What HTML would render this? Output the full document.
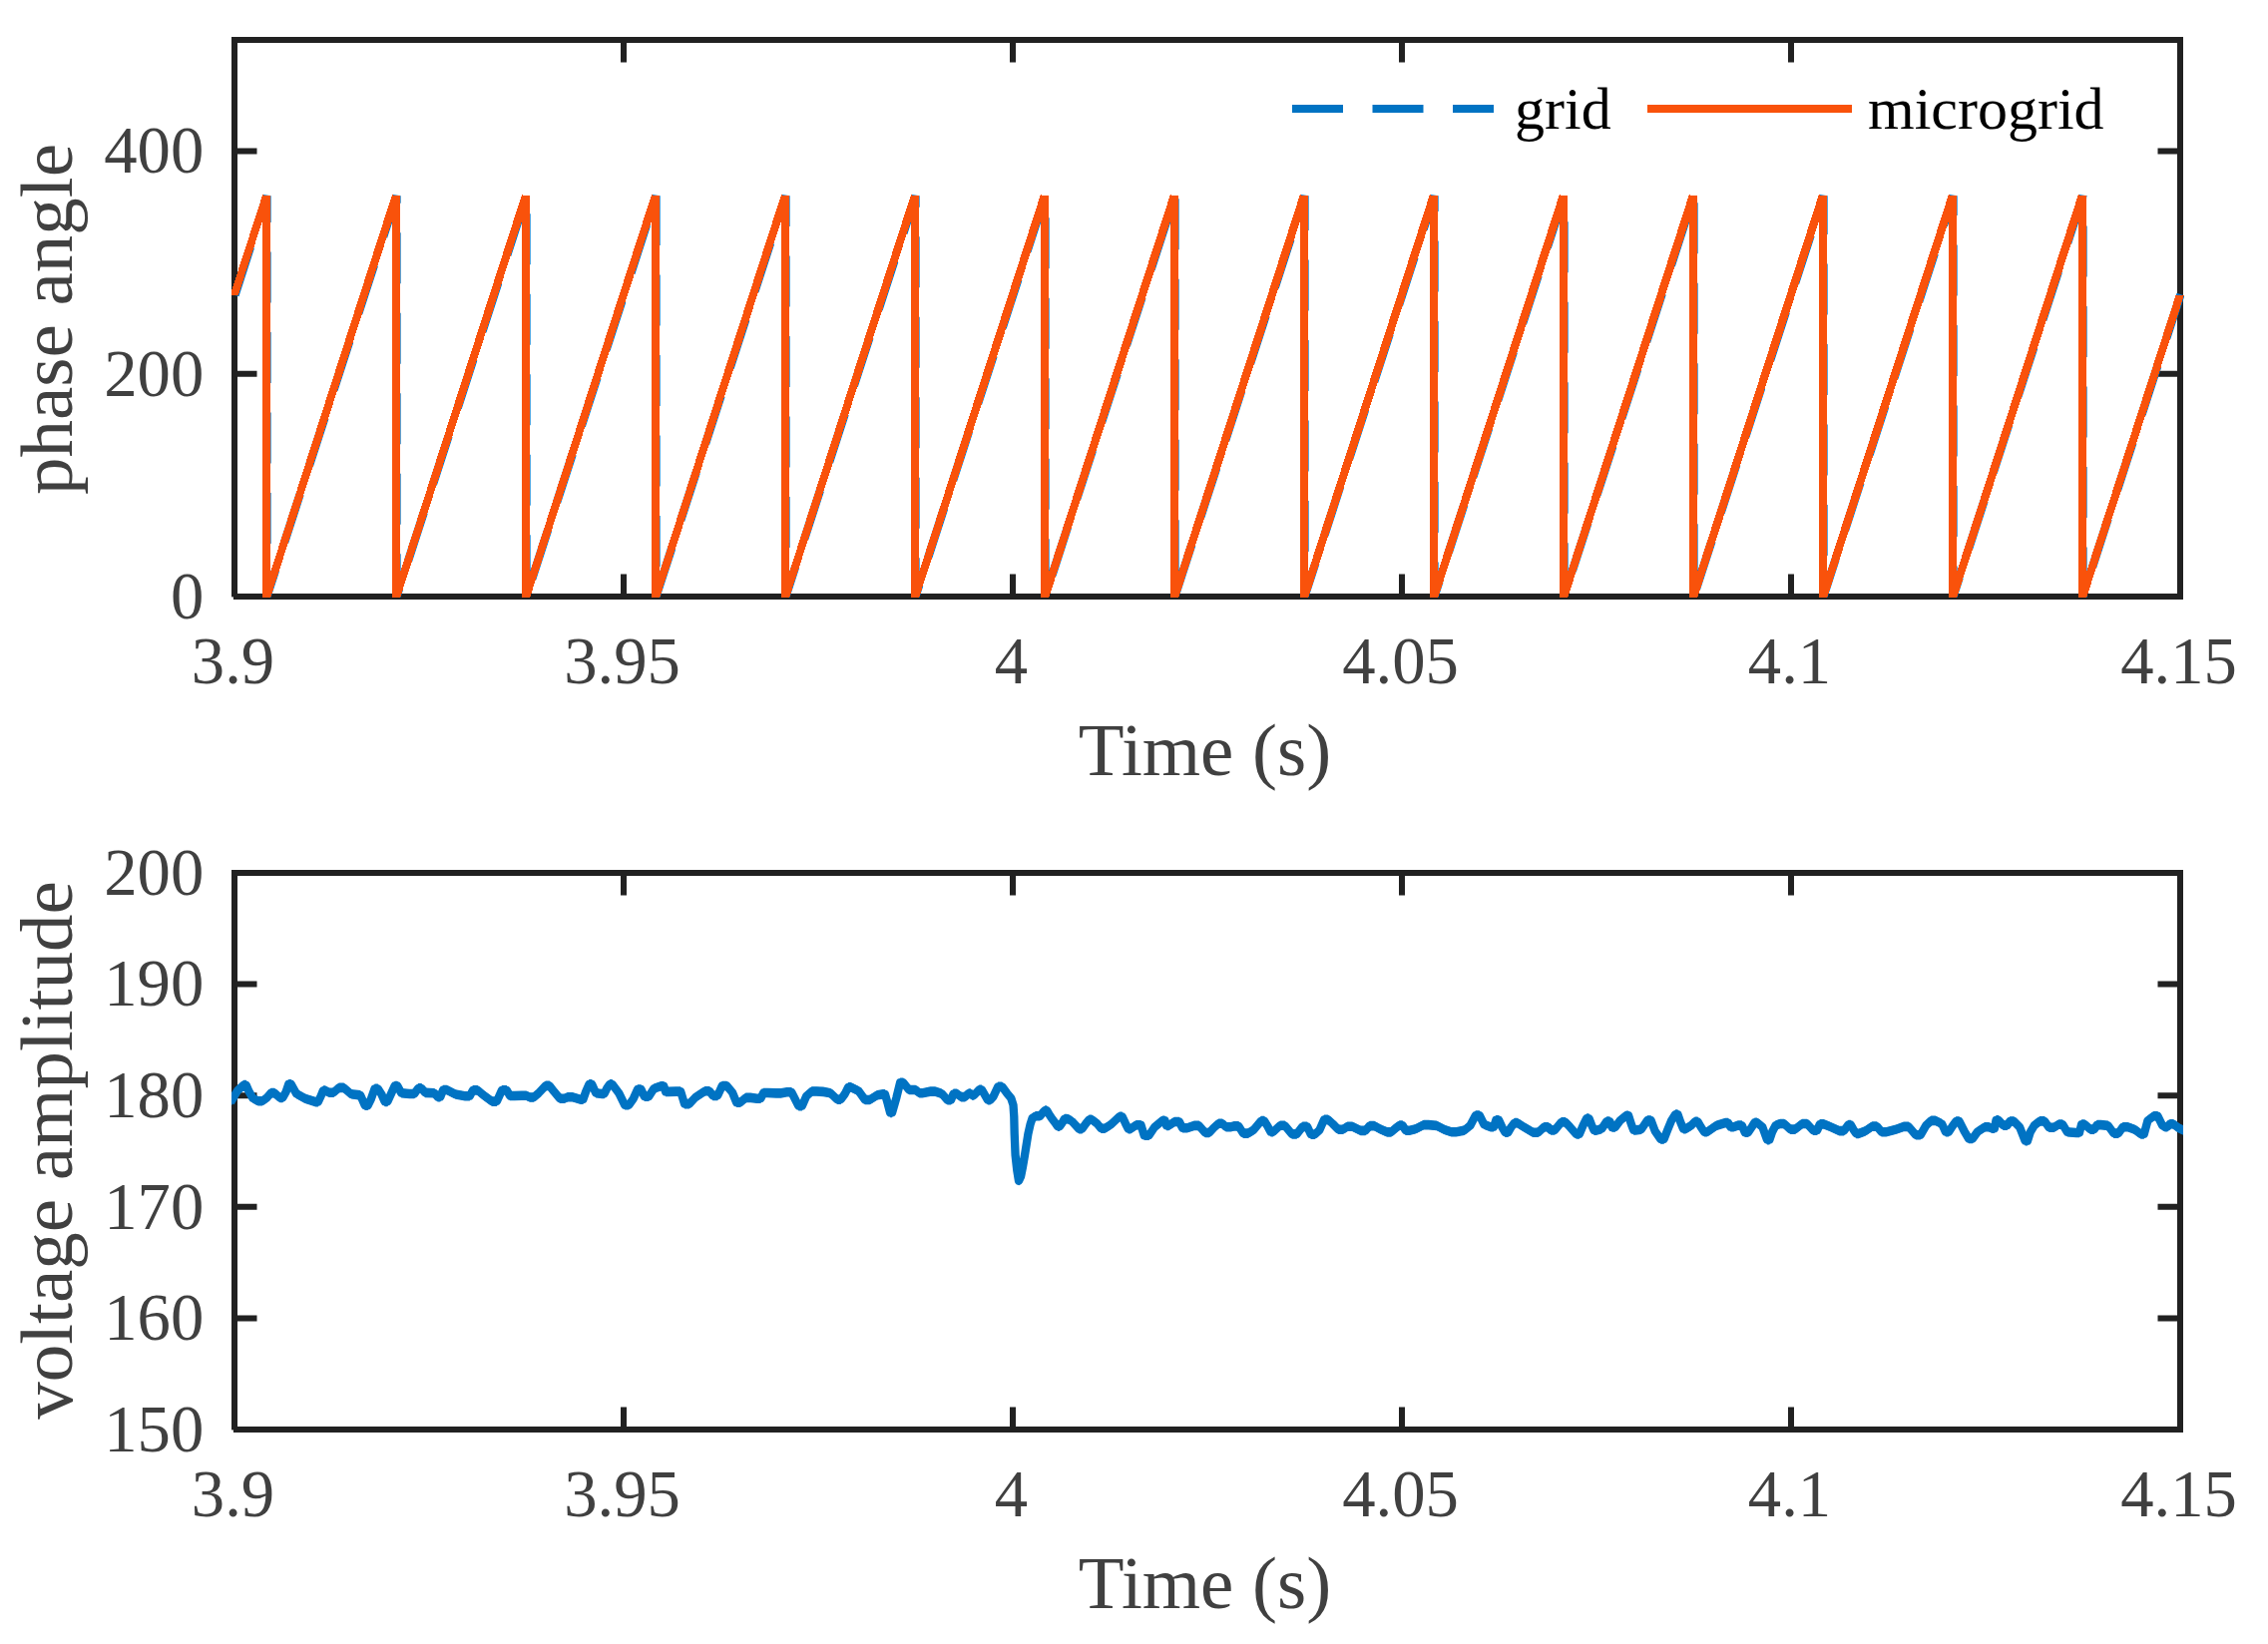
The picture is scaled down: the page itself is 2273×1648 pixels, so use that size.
<!DOCTYPE html>
<html lang="en">
<head>
<meta charset="utf-8">
<title>Phase angle and voltage amplitude</title>
<style>html,body{margin:0;padding:0;background:#fff}svg{display:block}</style>
</head>
<body>
<svg width="2273" height="1648" viewBox="0 0 2273 1648" font-family='"Liberation Serif", "Times New Roman", serif' fill="#404040">
<rect width="2273" height="1648" fill="#fff"/>
<defs><clipPath id="c1"><rect x="232" y="40" width="1957" height="559.2"/></clipPath><clipPath id="c2"><rect x="232" y="875" width="1956" height="558"/></clipPath></defs>
<rect x="235" y="40" width="1950" height="558" fill="none" stroke="#212121" stroke-width="6"/>
<rect x="231.9" y="598.4" width="2" height="3.2" fill="#fff"/>
<path d="M625 40v22.5M625 598v-22.5M1015 40v22.5M1015 598v-22.5M1405 40v22.5M1405 598v-22.5M1795 40v22.5M1795 598v-22.5M235 374.8h22.5M2185 374.8h-22.5M235 151.6h22.5M2185 151.6h-22.5" fill="none" stroke="#212121" stroke-width="6"/>
<g font-size="66.7">
<text x="233.5" y="685" text-anchor="middle">3.9</text>
<text x="623.5" y="685" text-anchor="middle">3.95</text>
<text x="1013.5" y="685" text-anchor="middle">4</text>
<text x="1403.5" y="685" text-anchor="middle">4.05</text>
<text x="1793.5" y="685" text-anchor="middle">4.1</text>
<text x="2183.5" y="685" text-anchor="middle">4.15</text>
<text x="204.3" y="619.8" text-anchor="end">0</text>
<text x="204.3" y="396.6" text-anchor="end">200</text>
<text x="204.3" y="173.4" text-anchor="end">400</text>
</g>
<g clip-path="url(#c1)">
<polyline points="235,296 267,196.2 267,598 397,196.2 397,598 527,196.2 527,598 657,196.2 657,598 787,196.2 787,598 917,196.2 917,598 1047,196.2 1047,598 1177,196.2 1177,598 1307,196.2 1307,598 1437,196.2 1437,598 1567,196.2 1567,598 1697,196.2 1697,598 1827,196.2 1827,598 1957,196.2 1957,598 2087,196.2 2087,598 2185,295.1" fill="none" stroke="#0073C3" stroke-width="8.3" stroke-dasharray="51 29.5" transform="translate(0.5 0)"/>
<path d="M262.9 196.2L271.1 196.2L238.9 296L230.6 296ZM262.9 195.4L271.1 196.2L271.1 599L262.9 599ZM392.9 195.4L401.1 196.2L271.1 599L262.9 599ZM392.9 195.4L401.1 196.2L401.1 599L392.9 599ZM522.9 195.4L531.1 196.2L401.1 599L392.9 599ZM522.9 195.4L531.1 196.2L531.1 599L522.9 599ZM652.9 195.4L661.1 196.2L531.1 599L522.9 599ZM652.9 195.4L661.1 196.2L661.1 599L652.9 599ZM782.9 195.4L791.1 196.2L661.1 599L652.9 599ZM782.9 195.4L791.1 196.2L791.1 599L782.9 599ZM912.9 195.4L921.1 196.2L791.1 599L782.9 599ZM912.9 195.4L921.1 196.2L921.1 599L912.9 599ZM1042.8 195.4L1051.2 196.2L921.1 599L912.9 599ZM1042.8 195.4L1051.2 196.2L1051.2 599L1042.8 599ZM1172.8 195.4L1181.2 196.2L1051.2 599L1042.8 599ZM1172.8 195.4L1181.2 196.2L1181.2 599L1172.8 599ZM1302.8 195.4L1311.2 196.2L1181.2 599L1172.8 599ZM1302.8 195.4L1311.2 196.2L1311.2 599L1302.8 599ZM1432.8 195.4L1441.2 196.2L1311.2 599L1302.8 599ZM1432.8 195.4L1441.2 196.2L1441.2 599L1432.8 599ZM1562.8 195.4L1571.2 196.2L1441.2 599L1432.8 599ZM1562.8 195.4L1571.2 196.2L1571.2 599L1562.8 599ZM1692.8 195.4L1701.2 196.2L1571.2 599L1562.8 599ZM1692.8 195.4L1701.2 196.2L1701.2 599L1692.8 599ZM1822.8 195.4L1831.2 196.2L1701.2 599L1692.8 599ZM1822.8 195.4L1831.2 196.2L1831.2 599L1822.8 599ZM1952.8 195.4L1961.2 196.2L1831.2 599L1822.8 599ZM1952.8 195.4L1961.2 196.2L1961.2 599L1952.8 599ZM2082.8 195.4L2091.2 196.2L1961.2 599L1952.8 599ZM2082.8 195.4L2091.2 196.2L2091.2 599L2082.8 599ZM2180.5 296.3L2188.8 296.3L2091.2 599L2082.8 599Z" fill="#F9520B" shape-rendering="crispEdges"/>
</g>
<text x="1207.5" y="776.5" font-size="75" text-anchor="middle">Time (s)</text>
<text transform="translate(72 320) rotate(-90)" font-size="75" text-anchor="middle">phase angle</text>
<path d="M1295 109H1497" stroke="#0073C3" stroke-width="8" stroke-dasharray="51 29.5" fill="none"/>
<path d="M1651 109H1856" stroke="#F9520B" stroke-width="8" fill="none"/>
<g font-size="60" fill="#000">
<text x="1518" y="129">grid</text>
<text x="1872" y="129">microgrid</text>
</g>
<rect x="235" y="875" width="1950" height="558" fill="none" stroke="#212121" stroke-width="6"/>
<rect x="231.9" y="1433.4" width="2" height="3.2" fill="#fff"/>
<path d="M625 875v22.5M625 1433v-22.5M1015 875v22.5M1015 1433v-22.5M1405 875v22.5M1405 1433v-22.5M1795 875v22.5M1795 1433v-22.5M235 1321.4h22.5M2185 1321.4h-22.5M235 1209.8h22.5M2185 1209.8h-22.5M235 1098.2h22.5M2185 1098.2h-22.5M235 986.6h22.5M2185 986.6h-22.5" fill="none" stroke="#212121" stroke-width="6"/>
<g font-size="66.7">
<text x="233.5" y="1519.5" text-anchor="middle">3.9</text>
<text x="623.5" y="1519.5" text-anchor="middle">3.95</text>
<text x="1013.5" y="1519.5" text-anchor="middle">4</text>
<text x="1403.5" y="1519.5" text-anchor="middle">4.05</text>
<text x="1793.5" y="1519.5" text-anchor="middle">4.1</text>
<text x="2183.5" y="1519.5" text-anchor="middle">4.15</text>
<text x="204.3" y="1454.8" text-anchor="end">150</text>
<text x="204.3" y="1343.2" text-anchor="end">160</text>
<text x="204.3" y="1231.6" text-anchor="end">170</text>
<text x="204.3" y="1120" text-anchor="end">180</text>
<text x="204.3" y="1008.4" text-anchor="end">190</text>
<text x="204.3" y="896.8" text-anchor="end">200</text>
</g>
<g clip-path="url(#c2)">
<polyline points="231,1105.2 234.9,1098.6 238.2,1093.1 244.3,1087.6 246.7,1087.6 249.5,1094.1 253.4,1100.9 258.7,1103.8 262.7,1103.8 267.3,1100.6 271.5,1095.6 275.1,1095.6 280.5,1100.5 283.3,1100.5 286.5,1094.8 289.3,1086.7 291.7,1086.7 297.1,1096.4 305.7,1101.2 316.4,1104.6 318.8,1104.6 321.6,1098.8 323.9,1093.1 325.9,1093.1 330,1095.3 334.3,1095.3 339.7,1090.4 344.5,1090.4 352,1096.8 361.2,1097.9 365.8,1108.3 368.6,1108.3 371.8,1101.9 375.5,1091.4 378.7,1091.4 382.4,1097 385.6,1104.4 388.4,1104.4 392.3,1095.7 395.6,1088.5 398.3,1088.5 402.2,1095.7 410.4,1096.5 415.2,1096.5 419.2,1090.9 422.4,1090.9 426.1,1095.4 435.3,1095.7 438.6,1099.7 441.3,1099.7 444.1,1092.5 447.7,1092.5 456.5,1097 466,1098.7 470.8,1098.7 473.9,1092.9 478.7,1092.9 484.3,1097.7 493.1,1104.1 497.9,1104.1 503,1092.8 507.8,1092.8 511,1098.5 515.7,1098.5 522.6,1098.2 527.4,1098.2 531,1100 534.9,1100 539.6,1096 546.8,1088.4 550.8,1088.4 555.4,1094.4 561,1101.2 565.7,1101.2 568.9,1099.7 573.7,1099.7 582,1102.2 584.4,1102.2 587.2,1094.1 590.4,1086.8 593.2,1086.8 597.1,1095.7 603.2,1096.5 605.6,1096.5 608.3,1090.9 611.1,1086.8 613.5,1086.8 620.2,1095.7 626.2,1107.8 630.2,1107.8 634.8,1101.3 639,1092 642.5,1092 645.8,1099.2 650.2,1099.2 655.3,1091.2 662.5,1088.7 665.3,1088.7 667.1,1094.4 669.9,1094.4 677.4,1094.1 682.2,1094.1 686,1106.6 690.8,1106.6 697,1100 706.5,1093.8 711.2,1093.8 714.4,1098.4 719.2,1098.4 723.7,1088.5 728.4,1088.5 734,1095.1 738.2,1105.3 741.7,1105.3 747.5,1100.4 752.3,1100.4 758.5,1101.2 762.4,1101.2 765.1,1095.5 769,1095.5 777.9,1095.9 782.7,1095.9 788.5,1094.8 793.3,1094.8 800.3,1108.6 803.9,1108.6 808.1,1098.9 813.6,1094 818.4,1094 825,1094.4 832.3,1095.7 839.1,1102.2 842.7,1102.2 846.8,1096.5 850.1,1089.9 852.8,1089.9 860.7,1093.8 866.9,1102.5 871.7,1102.5 879.2,1097.7 884.7,1096.9 887,1096.9 889.8,1106.6 892.1,1115.4 894.1,1115.4 898.4,1100.3 902.1,1085.2 905.3,1085.2 911,1092.5 917.6,1092.5 921.3,1095.7 924.5,1095.7 932.4,1094.1 937.2,1094.1 944,1096.4 949.5,1102.8 953.1,1102.8 955.5,1096.4 959.1,1096.4 963.2,1099.6 967.2,1099.6 970.8,1096.1 972.8,1096.1 974.1,1098 976.1,1098 981.4,1092.3 983.9,1092.3 986.9,1097.5 989.9,1102.7 992.5,1102.7 995.4,1099.5 1000.2,1089.3 1004.3,1089.3 1009.1,1095.8 1013.3,1100.9 1015.5,1107.7 1016.3,1119.6 1016.7,1136.7 1017.6,1158 1019.3,1173.3 1021,1183.9 1023.1,1179.3 1024.8,1170.7 1027,1158 1030.4,1136.7 1032.5,1127.3 1034.6,1120.9 1038,1118.8 1042.3,1118.8 1045.3,1115.1 1047.4,1113.1 1049.1,1113.1 1051.2,1116.7 1054.2,1121.3 1058,1126.3 1060.1,1129.2 1061.9,1129.2 1064.4,1125.8 1066.8,1121.6 1068.9,1121.6 1071.3,1122 1074.7,1124.5 1075,1124.7 1081.3,1131.6 1084.5,1131.6 1088.2,1126.4 1091.5,1122.3 1094.2,1122.3 1099.5,1126.4 1103.6,1131.2 1107.2,1131.2 1113.4,1127.2 1121.9,1119.3 1124.7,1119.3 1127.9,1126.1 1130.7,1131.7 1133.1,1131.7 1138.8,1127.7 1143.5,1127.7 1146.7,1138.2 1151.5,1138.2 1157,1130 1165.1,1123.2 1167.5,1123.2 1169,1128.4 1171.4,1128.4 1177.1,1124.5 1181.9,1124.5 1185.1,1130.8 1189.8,1130.8 1196.9,1128.4 1201.7,1128.4 1207.9,1135.5 1211.9,1135.5 1216.5,1130.5 1221.2,1126.3 1225.1,1126.3 1228.7,1129.7 1233.5,1129.7 1236.6,1128.9 1241.4,1128.9 1245.9,1136.1 1250.7,1136.1 1256.2,1132.9 1263.9,1123.6 1267.1,1123.6 1270.8,1129.7 1273.5,1134.7 1275.9,1134.7 1282.9,1128.3 1287.7,1128.3 1294.8,1136.9 1299.6,1136.9 1305.4,1129.4 1310.2,1129.4 1313.8,1137.2 1317.7,1137.2 1322.4,1132.9 1327,1122.4 1331,1122.4 1335.6,1126.5 1341.1,1132.2 1345.9,1132.2 1350.4,1129.2 1355.2,1129.2 1363.6,1133.4 1368.4,1133.4 1372.6,1128.6 1377.4,1128.6 1382.9,1131.7 1390.2,1134.9 1394.2,1134.9 1398.8,1130.9 1402.5,1128.1 1405.7,1128.1 1408.7,1133.3 1412.7,1133.3 1418.7,1131.7 1426.8,1127.6 1431.6,1127.6 1439.8,1128.4 1447.8,1132.5 1454.6,1134.7 1459.4,1134.7 1467.6,1133.1 1473.5,1128.2 1478.8,1118.1 1482.8,1118.1 1487.4,1127.3 1493.8,1129.7 1497,1129.7 1499.3,1122.7 1502.1,1122.7 1505.3,1129.7 1508.5,1135.3 1511.3,1135.3 1514.6,1129.7 1517.8,1125.6 1520.6,1125.6 1527.1,1129.7 1536.6,1135.3 1541.4,1135.3 1547.6,1129.7 1551.6,1129.7 1554.2,1132.9 1558.2,1132.9 1564.8,1124.8 1568.8,1124.8 1573.4,1129.7 1579.8,1136.9 1582.9,1136.9 1586.6,1128.1 1590.1,1121.1 1592.5,1121.1 1595.2,1128.1 1597.6,1133.2 1599.5,1133.2 1605.2,1131.6 1610.2,1124.1 1613.4,1124.1 1615.5,1130 1618.7,1130 1623.7,1123.2 1629.8,1118.2 1632.1,1118.2 1634.9,1127 1637.2,1132.9 1639.2,1132.9 1644.8,1132.3 1651,1123 1654.6,1123 1658.7,1133.9 1664.4,1142 1667.6,1142 1671.3,1132.6 1675,1123.5 1679.1,1117.1 1681.5,1117.1 1684.3,1125.1 1687,1131.6 1689.4,1131.6 1694.8,1128.4 1698.7,1124.3 1701.5,1124.3 1704.8,1130 1708,1134.8 1710.8,1134.8 1720,1128.4 1729,1125.6 1732.1,1125.6 1734.3,1129.7 1737.4,1129.7 1741.8,1128.1 1745.8,1128.1 1748.8,1135.3 1752,1135.3 1755.7,1129.7 1758.5,1125.2 1760.8,1125.2 1766.3,1129.7 1771,1142.6 1773.4,1142.6 1776.2,1134.5 1779.5,1128.1 1784.1,1126.5 1788.1,1126.5 1794.3,1132.1 1799.1,1132.1 1806.2,1126.5 1811,1126.5 1817.2,1133.2 1821.2,1133.2 1823.8,1126.9 1827.8,1126.9 1833.7,1129.2 1843.3,1133.6 1848,1133.6 1852.4,1127.5 1854.8,1127.5 1857.5,1132.3 1860.3,1136.4 1862.7,1136.4 1869.4,1133.9 1876.3,1129.1 1881.1,1129.1 1885.6,1134.7 1890.4,1134.7 1899.9,1132.3 1908,1129.4 1912.8,1129.4 1920,1137.8 1924.7,1137.8 1930.3,1128.1 1935.4,1123.4 1939.7,1123.4 1946.2,1126.6 1949.9,1134.7 1953,1134.7 1956.7,1129 1960.4,1124 1963.6,1124 1968.7,1134.2 1973.1,1141.5 1976.9,1141.5 1981.9,1134.5 1989.2,1129.7 1993.1,1129.7 1996.6,1131.3 1998.9,1131.3 2000.5,1122.9 2002.9,1122.9 2007.7,1128.1 2011.6,1128.1 2014.3,1124 2018.3,1124 2024.2,1130 2029.6,1143.7 2032,1143.7 2034.8,1134.8 2038.8,1128.1 2044.3,1123.9 2049.1,1123.9 2053.6,1130.3 2058.4,1130.3 2063.2,1127.1 2067.2,1127.1 2071.8,1134.8 2080.8,1135.5 2084,1135.5 2086.1,1127.1 2089.3,1127.1 2095,1132.1 2098.9,1132.1 2101.6,1127.6 2105.6,1127.6 2112.8,1128.4 2118.4,1136.1 2123.1,1136.1 2127.6,1129.7 2132.4,1129.7 2139.3,1132.2 2145.6,1136.9 2148.8,1136.9 2152.5,1123.2 2158.5,1118.7 2162.4,1118.7 2167.1,1128.1 2169.8,1129.7 2172.2,1129.7 2174.7,1126.7 2177.9,1126.7 2184.3,1131.3 2188.9,1133.2" fill="none" stroke="#0073C3" stroke-width="8.3" stroke-linejoin="round"/>
<path d="M231 1100.4 L234.9 1093.8 L238.2 1088.3 L244.3 1082.8 L246.7 1082.8 L249.5 1089.3 L253.4 1096.1 L258.7 1099 L262.7 1099 L267.3 1095.8 L271.5 1090.8 L275.1 1090.8 L280.5 1095.7 L283.3 1095.7 L286.5 1090 L289.3 1081.9 L291.7 1081.9 L297.1 1091.6 L305.7 1096.4 L316.4 1099.8 L318.8 1099.8 L321.6 1094 L323.9 1088.3 L325.9 1088.3 L330 1090.5 L334.3 1090.5 L339.7 1085.6 L344.5 1085.6 L352 1092 L361.2 1093.1 L365.8 1103.5 L368.6 1103.5 L371.8 1097.1 L375.5 1086.6 L378.7 1086.6 L382.4 1092.2 L385.6 1099.6 L388.4 1099.6 L392.3 1090.9 L395.6 1083.7 L398.3 1083.7 L402.2 1090.9 L410.4 1091.7 L415.2 1091.7 L419.2 1086.1 L422.4 1086.1 L426.1 1090.6 L435.3 1090.9 L438.6 1094.9 L441.3 1094.9 L444.1 1087.7 L447.7 1087.7 L456.5 1092.2 L466 1093.9 L470.8 1093.9 L473.9 1088.1 L478.7 1088.1 L484.3 1092.9 L493.1 1099.3 L497.9 1099.3 L503 1088 L507.8 1088 L511 1093.7 L515.7 1093.7 L522.6 1093.4 L527.4 1093.4 L531 1095.2 L534.9 1095.2 L539.6 1091.2 L546.8 1083.6 L550.8 1083.6 L555.4 1089.6 L561 1096.4 L565.7 1096.4 L568.9 1094.9 L573.7 1094.9 L582 1097.4 L584.4 1097.4 L587.2 1089.3 L590.4 1082 L593.2 1082 L597.1 1090.9 L603.2 1091.7 L605.6 1091.7 L608.3 1086.1 L611.1 1082 L613.5 1082 L620.2 1090.9 L626.2 1103 L630.2 1103 L634.8 1096.5 L639 1087.2 L642.5 1087.2 L645.8 1094.4 L650.2 1094.4 L655.3 1086.4 L662.5 1083.9 L665.3 1083.9 L667.1 1089.6 L669.9 1089.6 L677.4 1089.3 L682.2 1089.3 L686 1101.8 L690.8 1101.8 L697 1095.2 L706.5 1089 L711.2 1089 L714.4 1093.6 L719.2 1093.6 L723.7 1083.7 L728.4 1083.7 L734 1090.3 L738.2 1100.5 L741.7 1100.5 L747.5 1095.6 L752.3 1095.6 L758.5 1096.4 L762.4 1096.4 L765.1 1090.7 L769 1090.7 L777.9 1091.1 L782.7 1091.1 L788.5 1090 L793.3 1090 L800.3 1103.8 L803.9 1103.8 L808.1 1094.1 L813.6 1089.2 L818.4 1089.2 L825 1089.6 L832.3 1090.9 L839.1 1097.4 L842.7 1097.4 L846.8 1091.7 L850.1 1085.1 L852.8 1085.1 L860.7 1089 L866.9 1097.7 L871.7 1097.7 L879.2 1092.9 L884.7 1092.1 L887 1092.1 L889.8 1101.8 L892.1 1110.6 L894.1 1110.6 L898.4 1095.5 L902.1 1080.4 L905.3 1080.4 L911 1087.7 L917.6 1087.7 L921.3 1090.9 L924.5 1090.9 L932.4 1089.3 L937.2 1089.3 L944 1091.6 L949.5 1098 L953.1 1098 L955.5 1091.6 L959.1 1091.6 L963.2 1094.8 L967.2 1094.8 L970.8 1091.3 L972.8 1091.3 L974.1 1093.2 L976.1 1093.2 L981.4 1087.5 L983.9 1087.5 L986.9 1092.7 L989.9 1097.9 L992.5 1097.9 L995.4 1094.7 L1000.2 1084.5 L1004.3 1084.5 L1009.1 1091 L1013.3 1096.1 L1015.5 1102.9 L1016.3 1114.8 L1016.7 1131.9 L1017.6 1153.2 L1019.3 1168.5 L1021 1179.1 L1023.1 1174.5 L1024.8 1165.9 L1027 1153.2 L1030.4 1131.9 L1032.5 1122.5 L1034.6 1116.1 L1038 1114 L1042.3 1114 L1045.3 1110.3 L1047.4 1108.3 L1049.1 1108.3 L1051.2 1111.9 L1054.2 1116.5 L1058 1121.5 L1060.1 1124.4 L1061.9 1124.4 L1064.4 1121 L1066.8 1116.8 L1068.9 1116.8 L1071.3 1117.2 L1074.7 1119.7 L1075 1119.9 L1081.3 1126.8 L1084.5 1126.8 L1088.2 1121.6 L1091.5 1117.5 L1094.2 1117.5 L1099.5 1121.6 L1103.6 1126.4 L1107.2 1126.4 L1113.4 1122.4 L1121.9 1114.5 L1124.7 1114.5 L1127.9 1121.3 L1130.7 1126.9 L1133.1 1126.9 L1138.8 1122.9 L1143.5 1122.9 L1146.7 1133.4 L1151.5 1133.4 L1157 1125.2 L1165.1 1118.4 L1167.5 1118.4 L1169 1123.6 L1171.4 1123.6 L1177.1 1119.7 L1181.9 1119.7 L1185.1 1126 L1189.8 1126 L1196.9 1123.6 L1201.7 1123.6 L1207.9 1130.7 L1211.9 1130.7 L1216.5 1125.7 L1221.2 1121.5 L1225.1 1121.5 L1228.7 1124.9 L1233.5 1124.9 L1236.6 1124.1 L1241.4 1124.1 L1245.9 1131.3 L1250.7 1131.3 L1256.2 1128.1 L1263.9 1118.8 L1267.1 1118.8 L1270.8 1124.9 L1273.5 1129.9 L1275.9 1129.9 L1282.9 1123.5 L1287.7 1123.5 L1294.8 1132.1 L1299.6 1132.1 L1305.4 1124.6 L1310.2 1124.6 L1313.8 1132.4 L1317.7 1132.4 L1322.4 1128.1 L1327 1117.6 L1331 1117.6 L1335.6 1121.7 L1341.1 1127.4 L1345.9 1127.4 L1350.4 1124.4 L1355.2 1124.4 L1363.6 1128.6 L1368.4 1128.6 L1372.6 1123.8 L1377.4 1123.8 L1382.9 1126.9 L1390.2 1130.1 L1394.2 1130.1 L1398.8 1126.1 L1402.5 1123.3 L1405.7 1123.3 L1408.7 1128.5 L1412.7 1128.5 L1418.7 1126.9 L1426.8 1122.8 L1431.6 1122.8 L1439.8 1123.6 L1447.8 1127.7 L1454.6 1129.9 L1459.4 1129.9 L1467.6 1128.3 L1473.5 1123.4 L1478.8 1113.3 L1482.8 1113.3 L1487.4 1122.5 L1493.8 1124.9 L1497 1124.9 L1499.3 1117.9 L1502.1 1117.9 L1505.3 1124.9 L1508.5 1130.5 L1511.3 1130.5 L1514.6 1124.9 L1517.8 1120.8 L1520.6 1120.8 L1527.1 1124.9 L1536.6 1130.5 L1541.4 1130.5 L1547.6 1124.9 L1551.6 1124.9 L1554.2 1128.1 L1558.2 1128.1 L1564.8 1120 L1568.8 1120 L1573.4 1124.9 L1579.8 1132.1 L1582.9 1132.1 L1586.6 1123.3 L1590.1 1116.3 L1592.5 1116.3 L1595.2 1123.3 L1597.6 1128.4 L1599.5 1128.4 L1605.2 1126.8 L1610.2 1119.3 L1613.4 1119.3 L1615.5 1125.2 L1618.7 1125.2 L1623.7 1118.4 L1629.8 1113.4 L1632.1 1113.4 L1634.9 1122.2 L1637.2 1128.1 L1639.2 1128.1 L1644.8 1127.5 L1651 1118.2 L1654.6 1118.2 L1658.7 1129.1 L1664.4 1137.2 L1667.6 1137.2 L1671.3 1127.8 L1675 1118.7 L1679.1 1112.3 L1681.5 1112.3 L1684.3 1120.3 L1687 1126.8 L1689.4 1126.8 L1694.8 1123.6 L1698.7 1119.5 L1701.5 1119.5 L1704.8 1125.2 L1708 1130 L1710.8 1130 L1720 1123.6 L1729 1120.8 L1732.1 1120.8 L1734.3 1124.9 L1737.4 1124.9 L1741.8 1123.3 L1745.8 1123.3 L1748.8 1130.5 L1752 1130.5 L1755.7 1124.9 L1758.5 1120.4 L1760.8 1120.4 L1766.3 1124.9 L1771 1137.8 L1773.4 1137.8 L1776.2 1129.7 L1779.5 1123.3 L1784.1 1121.7 L1788.1 1121.7 L1794.3 1127.3 L1799.1 1127.3 L1806.2 1121.7 L1811 1121.7 L1817.2 1128.4 L1821.2 1128.4 L1823.8 1122.1 L1827.8 1122.1 L1833.7 1124.4 L1843.3 1128.8 L1848 1128.8 L1852.4 1122.7 L1854.8 1122.7 L1857.5 1127.5 L1860.3 1131.6 L1862.7 1131.6 L1869.4 1129.1 L1876.3 1124.3 L1881.1 1124.3 L1885.6 1129.9 L1890.4 1129.9 L1899.9 1127.5 L1908 1124.6 L1912.8 1124.6 L1920 1133 L1924.7 1133 L1930.3 1123.3 L1935.4 1118.6 L1939.7 1118.6 L1946.2 1121.8 L1949.9 1129.9 L1953 1129.9 L1956.7 1124.2 L1960.4 1119.2 L1963.6 1119.2 L1968.7 1129.4 L1973.1 1136.7 L1976.9 1136.7 L1981.9 1129.7 L1989.2 1124.9 L1993.1 1124.9 L1996.6 1126.5 L1998.9 1126.5 L2000.5 1118.1 L2002.9 1118.1 L2007.7 1123.3 L2011.6 1123.3 L2014.3 1119.2 L2018.3 1119.2 L2024.2 1125.2 L2029.6 1138.9 L2032 1138.9 L2034.8 1130 L2038.8 1123.3 L2044.3 1119.1 L2049.1 1119.1 L2053.6 1125.5 L2058.4 1125.5 L2063.2 1122.3 L2067.2 1122.3 L2071.8 1130 L2080.8 1130.7 L2084 1130.7 L2086.1 1122.3 L2089.3 1122.3 L2095 1127.3 L2098.9 1127.3 L2101.6 1122.8 L2105.6 1122.8 L2112.8 1123.6 L2118.4 1131.3 L2123.1 1131.3 L2127.6 1124.9 L2132.4 1124.9 L2139.3 1127.4 L2145.6 1132.1 L2148.8 1132.1 L2152.5 1118.4 L2158.5 1113.9 L2162.4 1113.9 L2167.1 1123.3 L2169.8 1124.9 L2172.2 1124.9 L2174.7 1121.9 L2177.9 1121.9 L2184.3 1126.5 L2188.9 1128.4 L2188.9 1138 L2184.3 1136.1 L2177.9 1131.5 L2174.7 1131.5 L2172.2 1134.5 L2169.8 1134.5 L2167.1 1132.9 L2162.4 1123.5 L2158.5 1123.5 L2152.5 1128 L2148.8 1141.7 L2145.6 1141.7 L2139.3 1137 L2132.4 1134.5 L2127.6 1134.5 L2123.1 1140.9 L2118.4 1140.9 L2112.8 1133.2 L2105.6 1132.4 L2101.6 1132.4 L2098.9 1136.9 L2095 1136.9 L2089.3 1131.9 L2086.1 1131.9 L2084 1140.3 L2080.8 1140.3 L2071.8 1139.6 L2067.2 1131.9 L2063.2 1131.9 L2058.4 1135.1 L2053.6 1135.1 L2049.1 1128.7 L2044.3 1128.7 L2038.8 1132.9 L2034.8 1139.6 L2032 1148.5 L2029.6 1148.5 L2024.2 1134.8 L2018.3 1128.8 L2014.3 1128.8 L2011.6 1132.9 L2007.7 1132.9 L2002.9 1127.7 L2000.5 1127.7 L1998.9 1136.1 L1996.6 1136.1 L1993.1 1134.5 L1989.2 1134.5 L1981.9 1139.3 L1976.9 1146.3 L1973.1 1146.3 L1968.7 1139 L1963.6 1128.8 L1960.4 1128.8 L1956.7 1133.8 L1953 1139.5 L1949.9 1139.5 L1946.2 1131.4 L1939.7 1128.2 L1935.4 1128.2 L1930.3 1132.9 L1924.7 1142.6 L1920 1142.6 L1912.8 1134.2 L1908 1134.2 L1899.9 1137.1 L1890.4 1139.5 L1885.6 1139.5 L1881.1 1133.9 L1876.3 1133.9 L1869.4 1138.7 L1862.7 1141.2 L1860.3 1141.2 L1857.5 1137.1 L1854.8 1132.3 L1852.4 1132.3 L1848 1138.4 L1843.3 1138.4 L1833.7 1134 L1827.8 1131.7 L1823.8 1131.7 L1821.2 1138 L1817.2 1138 L1811 1131.3 L1806.2 1131.3 L1799.1 1136.9 L1794.3 1136.9 L1788.1 1131.3 L1784.1 1131.3 L1779.5 1132.9 L1776.2 1139.3 L1773.4 1147.4 L1771 1147.4 L1766.3 1134.5 L1760.8 1130 L1758.5 1130 L1755.7 1134.5 L1752 1140.1 L1748.8 1140.1 L1745.8 1132.9 L1741.8 1132.9 L1737.4 1134.5 L1734.3 1134.5 L1732.1 1130.4 L1729 1130.4 L1720 1133.2 L1710.8 1139.6 L1708 1139.6 L1704.8 1134.8 L1701.5 1129.1 L1698.7 1129.1 L1694.8 1133.2 L1689.4 1136.4 L1687 1136.4 L1684.3 1129.9 L1681.5 1121.9 L1679.1 1121.9 L1675 1128.3 L1671.3 1137.4 L1667.6 1146.8 L1664.4 1146.8 L1658.7 1138.7 L1654.6 1127.8 L1651 1127.8 L1644.8 1137.1 L1639.2 1137.7 L1637.2 1137.7 L1634.9 1131.8 L1632.1 1123 L1629.8 1123 L1623.7 1128 L1618.7 1134.8 L1615.5 1134.8 L1613.4 1128.9 L1610.2 1128.9 L1605.2 1136.4 L1599.5 1138 L1597.6 1138 L1595.2 1132.9 L1592.5 1125.9 L1590.1 1125.9 L1586.6 1132.9 L1582.9 1141.7 L1579.8 1141.7 L1573.4 1134.5 L1568.8 1129.6 L1564.8 1129.6 L1558.2 1137.7 L1554.2 1137.7 L1551.6 1134.5 L1547.6 1134.5 L1541.4 1140.1 L1536.6 1140.1 L1527.1 1134.5 L1520.6 1130.4 L1517.8 1130.4 L1514.6 1134.5 L1511.3 1140.1 L1508.5 1140.1 L1505.3 1134.5 L1502.1 1127.5 L1499.3 1127.5 L1497 1134.5 L1493.8 1134.5 L1487.4 1132.1 L1482.8 1122.9 L1478.8 1122.9 L1473.5 1133 L1467.6 1137.9 L1459.4 1139.5 L1454.6 1139.5 L1447.8 1137.3 L1439.8 1133.2 L1431.6 1132.4 L1426.8 1132.4 L1418.7 1136.5 L1412.7 1138.1 L1408.7 1138.1 L1405.7 1132.9 L1402.5 1132.9 L1398.8 1135.7 L1394.2 1139.7 L1390.2 1139.7 L1382.9 1136.5 L1377.4 1133.4 L1372.6 1133.4 L1368.4 1138.2 L1363.6 1138.2 L1355.2 1134 L1350.4 1134 L1345.9 1137 L1341.1 1137 L1335.6 1131.3 L1331 1127.2 L1327 1127.2 L1322.4 1137.7 L1317.7 1142 L1313.8 1142 L1310.2 1134.2 L1305.4 1134.2 L1299.6 1141.7 L1294.8 1141.7 L1287.7 1133.1 L1282.9 1133.1 L1275.9 1139.5 L1273.5 1139.5 L1270.8 1134.5 L1267.1 1128.4 L1263.9 1128.4 L1256.2 1137.7 L1250.7 1140.9 L1245.9 1140.9 L1241.4 1133.7 L1236.6 1133.7 L1233.5 1134.5 L1228.7 1134.5 L1225.1 1131.1 L1221.2 1131.1 L1216.5 1135.3 L1211.9 1140.3 L1207.9 1140.3 L1201.7 1133.2 L1196.9 1133.2 L1189.8 1135.6 L1185.1 1135.6 L1181.9 1129.3 L1177.1 1129.3 L1171.4 1133.2 L1169 1133.2 L1167.5 1128 L1165.1 1128 L1157 1134.8 L1151.5 1143 L1146.7 1143 L1143.5 1132.5 L1138.8 1132.5 L1133.1 1136.5 L1130.7 1136.5 L1127.9 1130.9 L1124.7 1124.1 L1121.9 1124.1 L1113.4 1132 L1107.2 1136 L1103.6 1136 L1099.5 1131.2 L1094.2 1127.1 L1091.5 1127.1 L1088.2 1131.2 L1084.5 1136.4 L1081.3 1136.4 L1075 1129.5 L1074.7 1129.3 L1071.3 1126.8 L1068.9 1126.4 L1066.8 1126.4 L1064.4 1130.6 L1061.9 1134 L1060.1 1134 L1058 1131.1 L1054.2 1126.1 L1051.2 1121.5 L1049.1 1117.9 L1047.4 1117.9 L1045.3 1119.9 L1042.3 1123.6 L1038 1123.6 L1034.6 1125.7 L1032.5 1132.1 L1030.4 1141.5 L1027 1162.8 L1024.8 1175.5 L1023.1 1184.1 L1021 1188.7 L1019.3 1178.1 L1017.6 1162.8 L1016.7 1141.5 L1016.3 1124.4 L1015.5 1112.5 L1013.3 1105.7 L1009.1 1100.6 L1004.3 1094.1 L1000.2 1094.1 L995.4 1104.3 L992.5 1107.5 L989.9 1107.5 L986.9 1102.3 L983.9 1097.1 L981.4 1097.1 L976.1 1102.8 L974.1 1102.8 L972.8 1100.9 L970.8 1100.9 L967.2 1104.4 L963.2 1104.4 L959.1 1101.2 L955.5 1101.2 L953.1 1107.6 L949.5 1107.6 L944 1101.2 L937.2 1098.9 L932.4 1098.9 L924.5 1100.5 L921.3 1100.5 L917.6 1097.3 L911 1097.3 L905.3 1090 L902.1 1090 L898.4 1105.1 L894.1 1120.2 L892.1 1120.2 L889.8 1111.4 L887 1101.7 L884.7 1101.7 L879.2 1102.5 L871.7 1107.3 L866.9 1107.3 L860.7 1098.6 L852.8 1094.7 L850.1 1094.7 L846.8 1101.3 L842.7 1107 L839.1 1107 L832.3 1100.5 L825 1099.2 L818.4 1098.8 L813.6 1098.8 L808.1 1103.7 L803.9 1113.4 L800.3 1113.4 L793.3 1099.6 L788.5 1099.6 L782.7 1100.7 L777.9 1100.7 L769 1100.3 L765.1 1100.3 L762.4 1106 L758.5 1106 L752.3 1105.2 L747.5 1105.2 L741.7 1110.1 L738.2 1110.1 L734 1099.9 L728.4 1093.3 L723.7 1093.3 L719.2 1103.2 L714.4 1103.2 L711.2 1098.6 L706.5 1098.6 L697 1104.8 L690.8 1111.4 L686 1111.4 L682.2 1098.9 L677.4 1098.9 L669.9 1099.2 L667.1 1099.2 L665.3 1093.5 L662.5 1093.5 L655.3 1096 L650.2 1104 L645.8 1104 L642.5 1096.8 L639 1096.8 L634.8 1106.1 L630.2 1112.6 L626.2 1112.6 L620.2 1100.5 L613.5 1091.6 L611.1 1091.6 L608.3 1095.7 L605.6 1101.3 L603.2 1101.3 L597.1 1100.5 L593.2 1091.6 L590.4 1091.6 L587.2 1098.9 L584.4 1107 L582 1107 L573.7 1104.5 L568.9 1104.5 L565.7 1106 L561 1106 L555.4 1099.2 L550.8 1093.2 L546.8 1093.2 L539.6 1100.8 L534.9 1104.8 L531 1104.8 L527.4 1103 L522.6 1103 L515.7 1103.3 L511 1103.3 L507.8 1097.6 L503 1097.6 L497.9 1108.9 L493.1 1108.9 L484.3 1102.5 L478.7 1097.7 L473.9 1097.7 L470.8 1103.5 L466 1103.5 L456.5 1101.8 L447.7 1097.3 L444.1 1097.3 L441.3 1104.5 L438.6 1104.5 L435.3 1100.5 L426.1 1100.2 L422.4 1095.7 L419.2 1095.7 L415.2 1101.3 L410.4 1101.3 L402.2 1100.5 L398.3 1093.3 L395.6 1093.3 L392.3 1100.5 L388.4 1109.2 L385.6 1109.2 L382.4 1101.8 L378.7 1096.2 L375.5 1096.2 L371.8 1106.7 L368.6 1113.1 L365.8 1113.1 L361.2 1102.7 L352 1101.6 L344.5 1095.2 L339.7 1095.2 L334.3 1100.1 L330 1100.1 L325.9 1097.9 L323.9 1097.9 L321.6 1103.6 L318.8 1109.4 L316.4 1109.4 L305.7 1106 L297.1 1101.2 L291.7 1091.5 L289.3 1091.5 L286.5 1099.6 L283.3 1105.3 L280.5 1105.3 L275.1 1100.4 L271.5 1100.4 L267.3 1105.4 L262.7 1108.6 L258.7 1108.6 L253.4 1105.7 L249.5 1098.9 L246.7 1092.4 L244.3 1092.4 L238.2 1097.9 L234.9 1103.4 L231 1110 Z" fill="#0073C3"/>
</g>
<text x="1207.5" y="1611.5" font-size="75" text-anchor="middle">Time (s)</text>
<text transform="translate(72 1153) rotate(-90)" font-size="75" text-anchor="middle">voltage amplitude</text>
</svg>
</body>
</html>
